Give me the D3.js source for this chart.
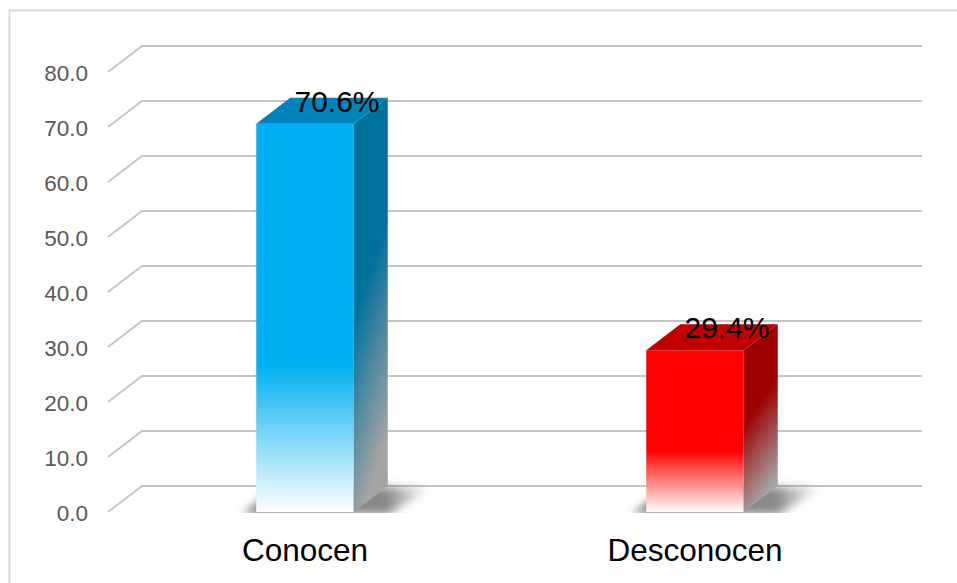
<!DOCTYPE html>
<html>
<head>
<meta charset="utf-8">
<script src="https://cdn.jsdelivr.net/npm/d3@7"></script>
<style>
  html, body { margin: 0; padding: 0; background: #fff; }
  svg { display: block; font-family: "Liberation Sans", Arial, sans-serif; }
</style>
</head>
<body>
<svg id="chart" width="957" height="583"></svg>
<script>
// ---- data ----
const categories = ["Conocen", "Desconocen"];
const values = [70.6, 29.4];
const valueLabels = ["70.6%", "29.4%"];
const tickValues = [0, 10, 20, 30, 40, 50, 60, 70, 80];
const frontColors = ["#00b0f0", "#ff0000"];
const topColors = ["#0083bb", "#c00000"];
const sideColors = ["#00709c", "#9c0000"];

// ---- layout ----
const W = 957, H = 583;
const depthX = 34, depthY = -26;
const svg = d3.select("#chart");
const defs = svg.append("defs");

// outer border (cropped chart area)
svg.append("rect")
  .attr("x", 9.5).attr("y", 10.5)
  .attr("width", 980).attr("height", 620)
  .attr("fill", "#fff").attr("stroke", "#d9d9d9").attr("stroke-width", 2);

const y = d3.scaleLinear().domain([0, 80]).range([512, 72]);
const x = d3.scaleBand().domain(categories).range([110, 890])
  .paddingInner(0.75).paddingOuter(0.375);

// gridlines with 3D perspective
const gridG = svg.append("g");
tickValues.forEach(t => {
  const yf = y(t);
  gridG.append("path")
    .attr("d", d3.line()([[108, yf], [108 + depthX, yf + depthY], [922, yf + depthY]]))
    .attr("fill", "none").attr("stroke", "#c4c4c4").attr("stroke-width", 1.8);
});

// y axis labels
const axis = d3.axisLeft(y).tickValues(tickValues).tickFormat(d3.format(".1f")).tickSize(0).tickPadding(0);
const axG = svg.append("g").attr("transform", "translate(88,0)").call(axis);
axG.select(".domain").remove();
axG.selectAll("text")
  .attr("font-size", 22.5).attr("fill", "#595959")
  .attr("font-family", '"Liberation Sans", Arial, sans-serif')
  .attr("dy", "0.36em");

// shadow filter
const f = defs.append("filter").attr("id", "blur").attr("x", "-50%").attr("y", "-50%").attr("width", "200%").attr("height", "200%");
f.append("feGaussianBlur").attr("stdDeviation", 4);
defs.append("clipPath").attr("id", "floorClip")
  .append("rect").attr("x", 0).attr("y", 0).attr("width", W).attr("height", 513);

// gradients
categories.forEach((c, i) => {
  const gf = defs.append("linearGradient").attr("id", "front" + i)
    .attr("x1", 0).attr("y1", 0).attr("x2", 0).attr("y2", 1);
  gf.append("stop").attr("offset", "0").attr("stop-color", frontColors[i]);
  gf.append("stop").attr("offset", "0.62").attr("stop-color", frontColors[i]);
  gf.append("stop").attr("offset", "1").attr("stop-color", "#ffffff");
  const gs = defs.append("linearGradient").attr("id", "side" + i)
    .attr("x1", 0).attr("y1", 0).attr("x2", 0.25).attr("y2", 1);
  gs.append("stop").attr("offset", "0").attr("stop-color", sideColors[i]);
  gs.append("stop").attr("offset", "0.5").attr("stop-color", sideColors[i]);
  gs.append("stop").attr("offset", "1").attr("stop-color", "#a4a4a4");
  const gsh = defs.append("linearGradient").attr("id", "shadow" + i)
    .attr("x1", 0).attr("y1", 0).attr("x2", 1).attr("y2", 0);
  gsh.append("stop").attr("offset", "0").attr("stop-color", "#444").attr("stop-opacity", 0.65);
  gsh.append("stop").attr("offset", "0.75").attr("stop-color", "#555").attr("stop-opacity", 0.7);
  gsh.append("stop").attr("offset", "1").attr("stop-color", "#888").attr("stop-opacity", 0);
});

// bars
const barsG = svg.append("g");
categories.forEach((c, i) => {
  const x0 = x(c), x1 = x(c) + x.bandwidth();
  const yb = y(0), yt = y(values[i]);
  const g = barsG.append("g");
  // floor shadow
  g.append("g").attr("clip-path", "url(#floorClip)")
    .append("path")
    .attr("d", d3.line()([[x0 - 14, yb + 2], [x1 + 36, yb + 2], [x1 + depthX + 46, yb + depthY + 1], [x0 + depthX - 14, yb + depthY + 1]]) + "Z")
    .attr("fill", "url(#shadow" + i + ")")
    .attr("filter", "url(#blur)");
  // front face
  g.append("rect")
    .attr("x", x0).attr("y", yt)
    .attr("width", x.bandwidth()).attr("height", yb - yt)
    .attr("fill", "url(#front" + i + ")");
  // side face
  g.append("path")
    .attr("d", d3.line()([[x1, yt], [x1 + depthX, yt + depthY], [x1 + depthX, yb + depthY], [x1, yb]]) + "Z")
    .attr("fill", "url(#side" + i + ")");
  // top face
  g.append("path")
    .attr("d", d3.line()([[x0, yt], [x0 + depthX, yt + depthY], [x1 + depthX, yt + depthY], [x1, yt]]) + "Z")
    .attr("fill", topColors[i]);
  // value label
  g.append("text")
    .attr("x", x0 + x.bandwidth() / 2 + 32)
    .attr("y", yt - 12)
    .attr("text-anchor", "middle")
    .attr("font-size", 30)
    .attr("fill", "#000")
    .text(valueLabels[i]);
  // category label
  g.append("text")
    .attr("x", x0 + x.bandwidth() / 2)
    .attr("y", 561)
    .attr("text-anchor", "middle")
    .attr("font-size", 31.5)
    .attr("fill", "#000")
    .text(c);
});
</script>
</body>
</html>
